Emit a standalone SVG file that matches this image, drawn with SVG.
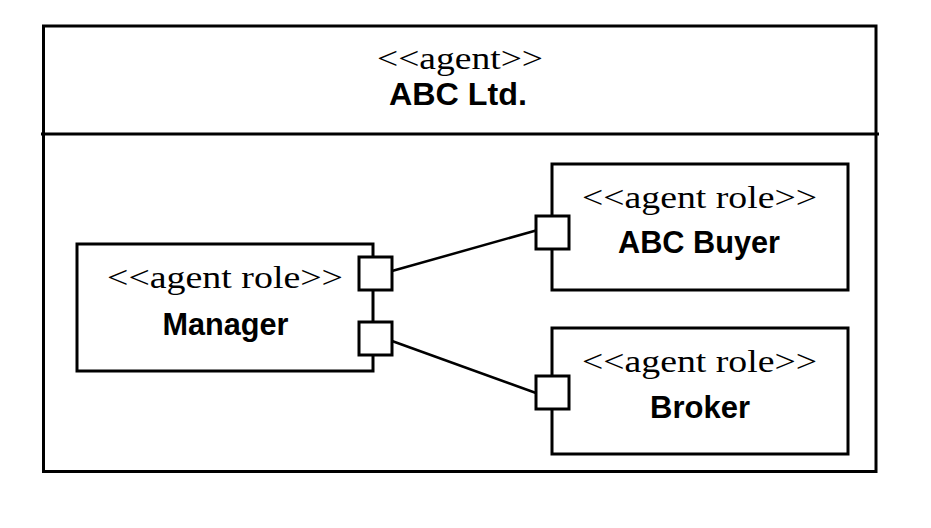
<svg xmlns="http://www.w3.org/2000/svg" width="931" height="528" viewBox="0 0 931 528">
<style>
.box{fill:#fff;stroke:#000;stroke-width:3}
.port{fill:#fff;stroke:#000;stroke-width:3}
.st{font-family:"Liberation Serif","Times New Roman",serif;font-size:32px;fill:#000;text-anchor:middle}
.nm{font-family:"Liberation Sans",Arial,sans-serif;font-size:31.5px;font-weight:bold;fill:#000;text-anchor:middle}
.conn{stroke:#000;stroke-width:2.5;fill:none}
</style>
<rect width="931" height="528" fill="#fff"/>
<g id="abc-ltd">
<rect class="box" x="43.5" y="26" width="832.5" height="445.5"/>
<line x1="41" y1="134" x2="879" y2="134" stroke="#000" stroke-width="3"/>
<text class="st" x="460" y="69" textLength="166" lengthAdjust="spacingAndGlyphs">&lt;&lt;agent&gt;&gt;</text>
<text class="nm" x="458" y="105" textLength="138" lengthAdjust="spacingAndGlyphs">ABC Ltd.</text>
</g>
<g id="connectors">
<line class="conn" x1="392" y1="271" x2="536" y2="230.5"/>
<line class="conn" x1="392" y1="341" x2="536" y2="393"/>
</g>
<g id="manager">
<rect class="box" x="77" y="244" width="296" height="127"/>
<text class="st" x="225" y="288" textLength="236" lengthAdjust="spacingAndGlyphs">&lt;&lt;agent role&gt;&gt;</text>
<text class="nm" x="225.5" y="335" textLength="126" lengthAdjust="spacingAndGlyphs">Manager</text>
<rect class="port" x="359" y="257" width="33" height="33"/>
<rect class="port" x="359" y="322" width="33" height="33"/>
</g>
<g id="abc-buyer">
<rect class="box" x="552" y="164" width="296" height="126"/>
<text class="st" x="699.5" y="208" textLength="235" lengthAdjust="spacingAndGlyphs">&lt;&lt;agent role&gt;&gt;</text>
<text class="nm" x="699" y="253" textLength="162" lengthAdjust="spacingAndGlyphs">ABC Buyer</text>
<rect class="port" x="536" y="216" width="33" height="33"/>
</g>
<g id="broker">
<rect class="box" x="552" y="328" width="296" height="126"/>
<text class="st" x="699.5" y="372" textLength="235" lengthAdjust="spacingAndGlyphs">&lt;&lt;agent role&gt;&gt;</text>
<text class="nm" x="700" y="418" textLength="100" lengthAdjust="spacingAndGlyphs">Broker</text>
<rect class="port" x="536" y="376" width="33" height="33"/>
</g>
</svg>
